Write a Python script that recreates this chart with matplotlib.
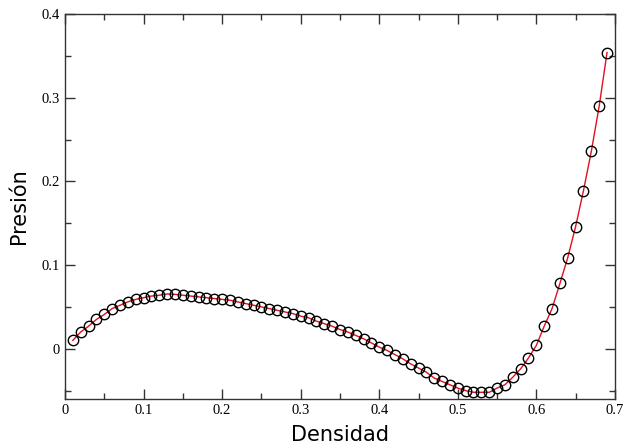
import matplotlib.pyplot as plt
import numpy as np
from matplotlib.ticker import MultipleLocator

densidad = np.arange(1, 70) / 100.0
presion = [
    0.010, 0.020, 0.027, 0.035, 0.041, 0.048, 0.052, 0.056, 0.059, 0.061,
    0.063, 0.064, 0.0655, 0.065, 0.064, 0.063, 0.062, 0.061, 0.060, 0.059,
    0.058, 0.056, 0.054, 0.052, 0.050, 0.048, 0.046, 0.044, 0.042, 0.039,
    0.037, 0.033, 0.030, 0.027, 0.023, 0.020, 0.016, 0.012, 0.007, 0.002,
    -0.002, -0.007, -0.012, -0.018, -0.023, -0.028, -0.035, -0.039, -0.043, -0.047,
    -0.050, -0.052, -0.052, -0.052, -0.047, -0.043, -0.034, -0.024, -0.011, 0.004,
    0.027, 0.048, 0.078, 0.109, 0.146, 0.189, 0.236, 0.290, 0.354,
]

fig = plt.figure(figsize=(6.23, 4.45), dpi=100)
ax = fig.add_axes([0.1043, 0.1034, 0.8827, 0.8651])

ax.plot(densidad, presion, color="#e0101c", lw=1.0, zorder=2)
ax.plot(densidad, presion, "o", ms=7.5, mfc="none", mec="black", mew=1.0, zorder=3)

ax.set_xlim(0, 0.7)
ax.set_ylim(-0.06, 0.4)
ax.xaxis.set_minor_locator(MultipleLocator(0.05))
ax.yaxis.set_minor_locator(MultipleLocator(0.05))
ax.set_xticks([0, 0.1, 0.2, 0.3, 0.4, 0.5, 0.6, 0.7])
ax.set_xticklabels(["0", "0.1", "0.2", "0.3", "0.4", "0.5", "0.6", "0.7"])
ax.set_yticks([0, 0.1, 0.2, 0.3, 0.4])
ax.set_yticklabels(["0", "0.1", "0.2", "0.3", "0.4"])

ax.tick_params(which="both", direction="in", top=True, right=True, colors="#333333")
ax.tick_params(which="major", length=7, width=1)
ax.tick_params(which="minor", length=4, width=1)
for lab in ax.get_xticklabels() + ax.get_yticklabels():
    lab.set_family("Liberation Serif")
    lab.set_fontsize(10.5)
    lab.set_color("black")
for s in ax.spines.values():
    s.set_color("#333333")
    s.set_linewidth(1)

ax.set_xlabel("Densidad", fontsize=15, labelpad=6)
ax.set_ylabel("Presión", fontsize=15, labelpad=9)

fig.savefig("out.png", dpi=100)
